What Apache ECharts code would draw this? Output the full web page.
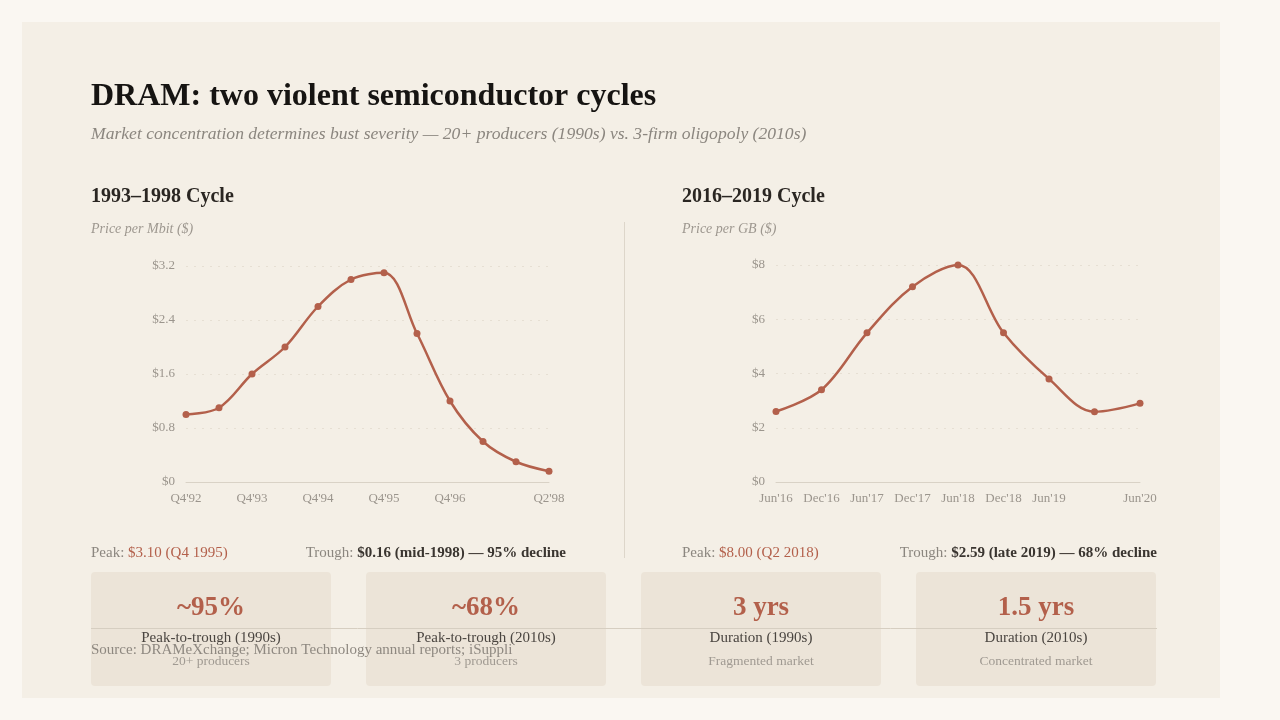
<!DOCTYPE html>
<html>
<head>
<meta charset="utf-8">
<script src="https://cdn.jsdelivr.net/npm/echarts@6/dist/echarts.min.js"></script>
<style>
  html, body { margin: 0; padding: 0; background: #faf7f2; }
  #page { width: 1280px; height: 720px; }
</style>
</head>
<body>
<div id="page"></div>
<script>
// 1993-1998 cycle, price per Mbit, half-year steps
var cats90s = ["Q4'92", "Q2'93", "Q4'93", "Q2'94", "Q4'94", "Q2'95", "Q4'95", "Q2'96", "Q4'96", "Q2'97", "Q4'97", "Q2'98"];
var ticks90s = ["Q4'92", "", "Q4'93", "", "Q4'94", "", "Q4'95", "", "Q4'96", "", "", "Q2'98"];
var price90s = [1.0, 1.1, 1.6, 2.0, 2.6, 3.0, 3.1, 2.2, 1.2, 0.6, 0.3, 0.16];

// 2016-2019 cycle, price per GB
var cats10s = ["Jun'16", "Dec'16", "Jun'17", "Dec'17", "Jun'18", "Dec'18", "Jun'19", "Dec'19", "Jun'20"];
var ticks10s = ["Jun'16", "Dec'16", "Jun'17", "Dec'17", "Jun'18", "Dec'18", "Jun'19", "", "Jun'20"];
var price10s = [2.6, 3.4, 5.5, 7.2, 8.0, 5.5, 3.8, 2.59, 2.9];

// stat cards
var cardValues = ['~95%', '~68%', '3 yrs', '1.5 yrs'];
var cardLabels = ['Peak-to-trough (1990s)', 'Peak-to-trough (2010s)', 'Duration (1990s)', 'Duration (2010s)'];
var cardNotes = ['20+ producers', '3 producers', 'Fragmented market', 'Concentrated market'];

var SERIF = '"Liberation Serif", "DejaVu Serif", serif';
var ACCENT = '#b3604b';
var chart = echarts.init(document.getElementById('page'));

function axisX(idx, cats, ticks) {
    return {
        type: 'category', gridIndex: idx, data: cats, boundaryGap: false,
        axisLine: { lineStyle: { color: '#d9d2c6', width: 1 } },
        axisTick: { show: false },
        axisLabel: {
            interval: 0, margin: 10, color: '#9b958d', fontFamily: SERIF, fontSize: 13,
            formatter: function(v, i) { return ticks[i]; }
        }
    };
}
function axisY(idx, max, step, dec) {
    return {
        type: 'value', gridIndex: idx, min: 0, max: max, interval: step,
        axisLine: { show: false }, axisTick: { show: false },
        splitLine: { lineStyle: { color: '#e6dfd3', type: [2, 6] } },
        axisLabel: {
            margin: 11, color: '#9b958d', fontFamily: SERIF, fontSize: 13,
            formatter: function(v) { return v === 0 ? '$0' : '$' + (dec ? v.toFixed(1) : v); }
        }
    };
}
function lineSeries(idx, data) {
    return {
        type: 'line', xAxisIndex: idx, yAxisIndex: idx, data: data,
        smooth: 0.35, symbol: 'circle', symbolSize: 7,
        itemStyle: { color: ACCENT },
        lineStyle: { color: ACCENT, width: 2.5 }
    };
}

var graphics = [
    { type: 'rect', shape: { x: 22, y: 22, width: 1198, height: 676 }, style: { fill: '#f4efe6' }, z: -10 },
    { type: 'text', style: { text: 'DRAM: two violent semiconductor cycles', x: 91, y: 97, verticalAlign: 'middle',
        font: 'bold 32px ' + SERIF, fill: '#161412' } },
    { type: 'text', style: { text: 'Market concentration determines bust severity — 20+ producers (1990s) vs. 3-firm oligopoly (2010s)',
        x: 91, y: 134, verticalAlign: 'middle', font: 'italic 17.6px ' + SERIF, fill: '#8b867f' } },
    { type: 'text', style: { text: '1993–1998 Cycle', x: 91, y: 197, verticalAlign: 'middle', font: 'bold 20px ' + SERIF, fill: '#2a2622' } },
    { type: 'text', style: { text: '2016–2019 Cycle', x: 682, y: 197, verticalAlign: 'middle', font: 'bold 20px ' + SERIF, fill: '#2a2622' } },
    { type: 'text', style: { text: 'Price per Mbit ($)', x: 91, y: 229, verticalAlign: 'middle', font: 'italic 14px ' + SERIF, fill: '#9d978f' } },
    { type: 'text', style: { text: 'Price per GB ($)', x: 682, y: 229, verticalAlign: 'middle', font: 'italic 14px ' + SERIF, fill: '#9d978f' } },
    { type: 'line', shape: { x1: 624.5, y1: 222, x2: 624.5, y2: 558 }, style: { stroke: '#ddd6ca', lineWidth: 1 } },
    { type: 'text', style: { text: '{a|Peak: }{b|$3.10 (Q4 1995)}', x: 91, y: 553, verticalAlign: 'middle',
        rich: { a: { font: '15px ' + SERIF, fill: '#8b867f' }, b: { font: '15px ' + SERIF, fill: ACCENT } } } },
    { type: 'text', style: { text: '{a|Trough: }{b|$0.16 (mid-1998) — 95% decline}', x: 566, y: 553, align: 'right', verticalAlign: 'middle',
        rich: { a: { font: '15px ' + SERIF, fill: '#8b867f' }, b: { font: 'bold 15px ' + SERIF, fill: '#3a3530' } } } },
    { type: 'text', style: { text: '{a|Peak: }{b|$8.00 (Q2 2018)}', x: 682, y: 553, verticalAlign: 'middle',
        rich: { a: { font: '15px ' + SERIF, fill: '#8b867f' }, b: { font: '15px ' + SERIF, fill: ACCENT } } } },
    { type: 'text', style: { text: '{a|Trough: }{b|$2.59 (late 2019) — 68% decline}', x: 1157, y: 553, align: 'right', verticalAlign: 'middle',
        rich: { a: { font: '15px ' + SERIF, fill: '#8b867f' }, b: { font: 'bold 15px ' + SERIF, fill: '#3a3530' } } } }
];

cardValues.forEach(function(val, i) {
    var left = 91 + i * 275;
    var cx = left + 120;
    graphics.push({ type: 'rect', shape: { x: left, y: 572, width: 240, height: 114, r: 4 }, style: { fill: '#ece4d8' } });
    graphics.push({ type: 'text', style: { text: val, x: cx, y: 608, align: 'center', verticalAlign: 'middle',
        font: 'bold 27px ' + SERIF, fill: ACCENT } });
    graphics.push({ type: 'text', style: { text: cardLabels[i], x: cx, y: 638, align: 'center', verticalAlign: 'middle',
        font: '15px ' + SERIF, fill: '#4a4540' } });
    graphics.push({ type: 'text', style: { text: cardNotes[i], x: cx, y: 661, align: 'center', verticalAlign: 'middle',
        font: '13.5px ' + SERIF, fill: '#a09a92' } });
});

// footer drawn over the cards, as in the original
graphics.push({ type: 'line', shape: { x1: 91, y1: 628.5, x2: 1157, y2: 628.5 }, style: { stroke: '#d6cec1', lineWidth: 1 }, z: 10 });
graphics.push({ type: 'text', z: 10, style: { text: 'Source: DRAMeXchange; Micron Technology annual reports; iSuppli', x: 91, y: 650,
    verticalAlign: 'middle', font: '15px ' + SERIF, fill: '#8e8880' } });

chart.setOption({
    backgroundColor: '#faf7f2',
    animation: false,
    grid: [
        { left: 186, top: 266, width: 363, height: 216 },
        { left: 776, top: 265, width: 364, height: 217 }
    ],
    xAxis: [axisX(0, cats90s, ticks90s), axisX(1, cats10s, ticks10s)],
    yAxis: [axisY(0, 3.2, 0.8, true), axisY(1, 8, 2, false)],
    series: [lineSeries(0, price90s), lineSeries(1, price10s)],
    graphic: graphics
});
</script>
</body>
</html>
